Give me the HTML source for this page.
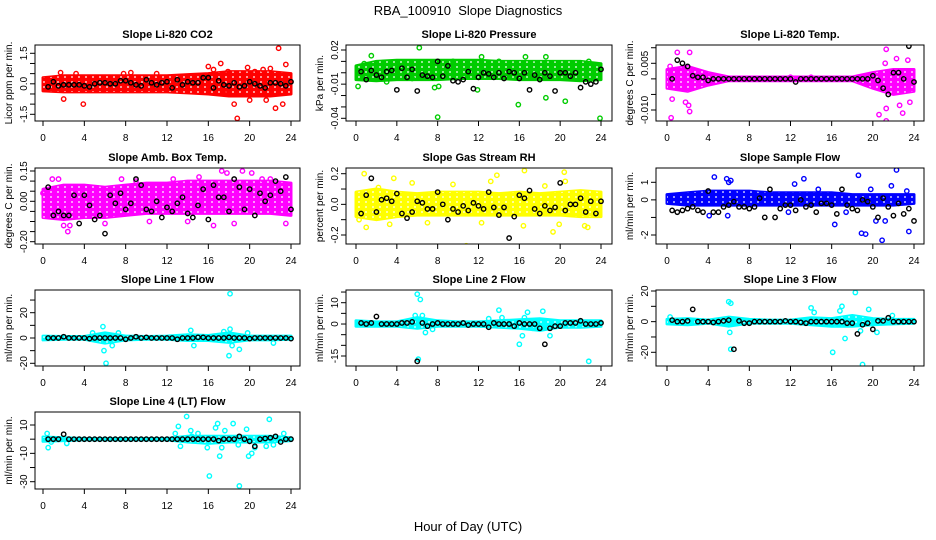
<!DOCTYPE html>
<html><head><meta charset="utf-8">
<style>
html,body{margin:0;padding:0;background:#fff;}
svg{display:block;font-family:"Liberation Sans",sans-serif;}
</style></head>
<body>
<svg id="chart" width="936" height="540" viewBox="0 0 936 540">
<defs>
<pattern id="speck" width="7" height="5" patternUnits="userSpaceOnUse">
<circle cx="2" cy="2" r="0.9" fill="#fff"/>
</pattern>
</defs>
<text x="468" y="15" text-anchor="middle" font-size="13">RBA_100910&#160; Slope Diagnostics</text>
<text x="468" y="531" text-anchor="middle" font-size="13">Hour of Day (UTC)</text>
</svg>
<script>
const bandH=[0,2,4,6,8,10,12,14,16,18,20,22,24];
const bkH=[0.5,1,1.5,2,2.5,3,3.5,4,4.5,5,5.5,6,6.5,7,7.5,8,8.5,9,9.5,10,10.5,11,11.5,12,12.5,13,13.5,14,14.5,15,15.5,16,16.5,17,17.5,18,18.5,19,19.5,20,20.5,21,21.5,22,22.5,23,23.5,24];
const xTicks=[0,4,8,12,16,20,24];

// Panel 1: CO2
const co2Lo=[-0.35,-0.4,-0.4,-0.4,-0.4,-0.4,-0.4,-0.45,-0.5,-0.6,-0.6,-0.6,-0.5];
const co2Hi=[0.3,0.4,0.4,0.4,0.4,0.4,0.4,0.45,0.5,0.6,0.6,0.6,0.5];
const co2OutX=[1.7,2.0,3.2,3.9,7.8,8.5,11,16,16.5,17.2,17.9,18.5,18.8,19.8,20.5,21.3,22,22.5,22.8,23.2,23.5,17.5,20,21.6];
const co2OutY=[0.55,-0.75,0.5,-1.0,0.5,0.55,0.5,0.85,0.7,1.0,0.6,-1.0,-1.7,0.8,0.6,0.7,0.75,-1.2,1.75,-1.0,0.95,-0.4,-0.8,-0.8];
const co2Bk=[-0.15,0.1,-0.1,-0.05,-0.05,-0.05,-0.05,-0.1,-0.15,0,0.05,0.05,0,0,0.15,0.15,0.05,-0.05,-0.1,0.2,0.05,-0.05,0.05,0.1,-0.2,0.2,-0.05,0.1,0.05,0.05,0.3,0.3,-0.2,0.15,-0.05,-0.1,0.05,-0.15,-0.1,0.1,0,-0.1,-0.2,0.05,0.05,0,-0.1,0.1];

// Panel 2: Pressure
const prLo=[-0.006,-0.007,-0.006,-0.006,-0.006,-0.005,-0.005,-0.005,-0.006,-0.006,-0.006,-0.007,-0.006];
const prHi=[0.006,0.01,0.011,0.011,0.011,0.011,0.011,0.01,0.01,0.01,0.01,0.01,0.008];
const prOutX=[1.5,6.2,8,12.3,15.9,18.6,20.5,23.9,0.2,7.7,11.9,16.6,18.6,22.8,8.1,0.8,3,5.5,9.5,14];
const prOutY=[0.015,0.022,-0.039,0.014,-0.028,-0.022,-0.025,-0.04,-0.012,-0.013,-0.015,0.014,0.014,0.01,-0.012,0.008,-0.008,-0.005,0.01,0.01];
const prBk=[0.001,-0.006,0.002,-0.002,-0.004,0.001,0.002,-0.015,0.004,-0.004,0.003,-0.016,-0.002,-0.003,-0.004,0.01,-0.003,0.006,-0.007,-0.008,-0.006,0.001,-0.014,-0.004,0.0,-0.001,-0.004,0.0,-0.005,0.001,0.0,-0.005,0.0,-0.015,-0.002,-0.006,0.0,-0.003,-0.016,0.0,0.0,-0.003,0.0,-0.013,-0.008,-0.01,-0.008,0.003];

// Panel 3: Li-820 Temp
const tpLo=[-0.003,-0.004,-0.002,-0.0006,-0.0006,-0.0006,-0.0006,-0.0006,-0.0006,-0.0006,-0.003,-0.005,-0.004];
const tpHi=[0.003,0.004,0.002,0.0006,0.0006,0.0006,0.0006,0.0006,0.0006,0.0006,0.002,0.003,0.003];
const tpOutX=[0.4,0.5,1.0,2.2,1.8,2.1,2.2,0.3,20.6,21.3,21.3,21.3,21.2,22.3,22.6,23.4,23.6,22.9,12,14];
const tpOutY=[-0.0125,-0.0065,0.0085,0.0085,-0.0075,-0.0085,-0.0105,0.004,-0.0115,-0.0135,-0.0095,0.0095,0.005,0.0065,-0.0085,0.006,-0.0075,-0.011,0.0005,0.0005];
const tpBk=[0,0.006,0.005,0.004,0.001,0.0005,0.0005,-0.0005,0,0,0,0,0,0,0,0,0,0,0,0,0,0,0,0,-0.001,0,0,0,0,0,0,0,0,0,0,0,0,0,0,0.001,-0.0005,-0.003,-0.005,0.002,0.002,0,0.0105,-0.001];

// Panel 4: Amb Box Temp
const abLo=[-0.08,-0.09,-0.08,-0.08,-0.07,-0.06,-0.06,-0.06,-0.06,-0.06,-0.06,-0.06,-0.07];
const abHi=[0.06,0.08,0.08,0.07,0.08,0.09,0.09,0.1,0.1,0.1,0.1,0.1,0.09];
const abOutX=[1.5,0.9,2,2.4,2.6,6,7.6,10.3,14,16.5,17.3,18.5,19.3,20.2,21.2,23.5,23.2,12.6,15.1,0.0,22,17.8,9];
const abOutY=[0.11,0.11,-0.12,-0.15,-0.12,-0.11,0.11,-0.1,-0.1,-0.12,0.15,-0.11,0.15,0.14,0.11,-0.11,-0.24,0.11,0.12,0.04,0.11,0.14,0.1];
const abBk=[0.07,-0.07,-0.05,-0.07,-0.07,0.03,-0.11,0.03,-0.02,-0.09,-0.07,-0.16,0.03,-0.01,0.04,-0.04,-0.01,0.11,0.08,-0.04,-0.05,0.0,-0.08,-0.03,-0.05,-0.01,0.02,-0.06,-0.08,-0.02,0.06,-0.09,0.08,0.02,0.02,-0.05,0.11,0.07,-0.04,0.06,-0.07,0.04,0.0,0.03,0.1,0.05,0.12,-0.04];

// Panel 5: Gas Stream RH
const rhLo=[-0.08,-0.1,-0.08,-0.07,-0.07,-0.07,-0.07,-0.07,-0.07,-0.07,-0.07,-0.08,-0.08];
const rhHi=[0.08,0.1,0.08,0.07,0.08,0.08,0.08,0.07,0.08,0.07,0.08,0.09,0.08];
const rhOutX=[0.8,1,3.7,3.3,5.5,9.5,10.8,7,13.2,13.8,16.5,16.4,19.3,19.9,20.4,20.5,22.7,22.4,18.5,12.3,2.2,0.3];
const rhOutY=[0.2,-0.15,0.17,-0.13,0.14,0.13,-0.27,-0.12,0.15,0.19,0.22,-0.14,-0.18,-0.13,0.21,0.15,-0.15,-0.14,0.12,-0.12,0.11,-0.1];
const rhBk=[-0.06,0.06,0.17,-0.05,0.03,0.04,0.02,0.07,-0.06,-0.09,-0.05,0.02,0.01,-0.03,-0.03,0.08,0.0,-0.1,-0.03,-0.05,-0.01,-0.04,0.01,-0.01,-0.03,0.08,-0.02,-0.07,-0.02,-0.22,-0.08,0.06,0.04,0.09,-0.03,-0.06,-0.01,-0.04,-0.02,0.14,-0.04,0.0,0.0,0.04,-0.05,0.02,-0.06,0.02];

// Panel 6: Sample Flow
const sfLo=[-0.2,-0.3,-0.3,-0.3,-0.3,-0.3,-0.3,-0.3,-0.3,-0.3,-0.3,-0.3,-0.2];
const sfHi=[0.3,0.4,0.5,0.5,0.5,0.4,0.4,0.4,0.4,0.3,0.3,0.3,0.3];
const sfOutX=[4.6,5.8,6,6.2,6.5,5.9,4.1,11.8,12.4,13.3,16.3,18.6,19.8,20.3,20.9,21.2,21.8,22.3,18.9,19.3,23.5,23.3,17.4,14.7];
const sfOutY=[1.3,1.2,1.0,1.1,0.4,-0.9,-0.9,-0.7,0.9,1.2,-1.4,1.4,0.6,-1.2,-2.3,-1.2,0.8,1.7,-1.9,-1.95,-1.8,0.5,-0.7,0.6];
const sfBk=[-0.6,-0.7,-0.6,-0.5,-0.4,-0.6,-0.7,0.5,-0.7,-0.7,-0.4,-0.3,-0.1,-0.4,-0.4,-0.5,-0.4,0.1,-1.0,0.6,-1.0,-0.5,-0.3,-0.3,-0.6,0.0,-0.4,-0.3,-0.7,-0.2,-0.2,-0.3,-0.8,0.6,-0.3,-0.5,-0.6,0.0,-0.1,-0.4,-1.0,0.1,-0.4,-0.9,-0.2,-0.8,-0.5,-1.2];

// Panel 7: Line 1
const l1Lo=[-1.5,-1,-1,-4,-1.5,-1,-1,-2,-2,-3.5,-1.5,-1.5,-1];
const l1Hi=[1.5,1.2,1.2,4,1.5,1.2,1.5,2.5,2,4,1.5,1.5,1.5];
const l1OutX=[5.8,5.9,6.1,6.7,14.3,14.6,18.1,18,18.3,19,18.1,19.8,22.3,4.8,7.3,17.5];
const l1OutY=[9,-10,-20,-6,6,-6,35,-14,-6,-9,7,4,-4,4,4,5];
const l1Bk=[0,0,0,1,0,0,0,0,-0.5,0,0,0,0,0,0,-1,0,1,0,0.5,0,0,0,0,0,-1,0,0,0,0.5,0.5,0,0,0,0,0.5,0,0,0,-0.5,0,0,0,0,0,0,0,-0.5];

// Panel 8: Line 2
const l2Lo=[-1,-1,-1,-2,-1,-1,-1,-1.5,-2,-3,-1.5,-1.5,-1];
const l2Hi=[1.5,1,1,3,1.5,1,1,1.5,2,2.5,1.5,1.5,1.5];
const l2OutX=[6,6.3,6.1,6.5,6.8,14,14.3,16,16.3,16.8,16.5,18.3,19,22.8,5.8,7.5,13,17.3];
const l2OutY=[14,11.5,-16.5,4,-4,6.5,3,-9.5,-5.5,5.5,3,6,-5.5,-17.5,4,-2.5,2.5,-2];
const l2Bk=[0.5,0,0.5,3.5,0,0,0,0,0.5,0.5,1,-17.5,0.5,-1,0,0.5,0,0,0,0,0.5,-0.5,0,0,0,-1.5,0.5,0,0,0,-1,0.5,0,0,0,-2,-9.5,-2,-1,-1,0.5,0.5,0.5,1.5,0,0,0,0.5];

// Panel 9: Line 3
const l3Lo=[-1.5,-2,-1,-3,-1,-1,-1,-2,-3,-3,-2,-1.5,-1];
const l3Hi=[1.5,2,1,3,1.5,1,1,2.5,2,4,2,1.5,1.5];
const l3OutX=[6,6.2,6.1,6.2,14,14.3,16.1,16.8,17,17.3,18.3,18.8,19,19.6,20.4,21.9,0.3];
const l3OutY=[13,12,-7,-18,9,6,-20,7,10,-11,19,-6,-28,8,-7,4,3];
const l3Bk=[1,0,0,0.5,8,0,0,0,-0.5,0,0.5,1,-18,0.5,-1,-1,0,0,0,0,0,0,0.5,0,0,-0.5,-1,0,0,0,0,0,0,0,-1,-1,-8,-2,-1,-5,0.5,0.5,2.5,0,0,0,0,0];

// Panel 10: Line 4
const l4Lo=[-1.5,-1,-0.5,-0.5,-0.5,-0.5,-0.5,-2,-3,-2,-2,-2,-1];
const l4Hi=[1.5,1,0.5,0.5,0.5,0.5,0.5,2,2,2,2,2,1];
const l4OutX=[0.4,0.5,0.8,2.3,13.1,12.8,13.3,13.9,14.3,14.4,15,15.9,16.1,16.7,16.9,17.1,17.3,17.6,18.4,18.9,19,19.7,19.9,20.2,20.5,21.6,21.9,22.3,23.3];
const l4OutY=[4,-6,-2,-3,9,4,-5,16,6,2,4,-6,-26,8,11,-12,-6,6,11,-4,-33,7,-12,-10,-6,-5,14,-4,4];
const l4Bk=[0,0,0,3.5,0,0,0,0,0,0,0,0,0,0,0,0,0,0,0,0,0,0,0,0,0,0,0,0,0,0,0,0,0,-1,0,0,0,2,0,-1.5,-5,0,0.5,1,2,-2,0,0];

const cols=[{L:35,R:300,x0:43,x24:291},{L:346,R:612,x0:356,x24:601},{L:656,R:924,x0:667,x24:914}];
const rows=[{T:45,B:121},{T:168,B:244},{T:290,B:366},{T:412,B:489}];
const NS='http://www.w3.org/2000/svg';
const svg=document.getElementById('chart');
function mk(tag,attrs,parent){const e=document.createElementNS(NS,tag);for(const k in attrs)e.setAttribute(k,attrs[k]);(parent||svg).appendChild(e);return e;}

const panels=[
 {r:0,c:0,title:'Slope Li-820 CO2',ylab:'Licor ppm per min.',col:'#ff0000',v1:1.5,p1:53.3,v2:-1.5,p2:114.3,ticks:[1.5,1,0.5,0,-0.5,-1,-1.5],labs:[[1.5,'1.5'],[0,'0.0'],[-1.5,'-1.5']],lo:co2Lo,hi:co2Hi,ox:co2OutX,oy:co2OutY,bk:co2Bk},
 {r:0,c:1,title:'Slope Li-820 Pressure',ylab:'kPa per min.',col:'#00cc00',v1:0.02,p1:50,v2:-0.04,p2:118.3,ticks:[0.02,0.01,0,-0.01,-0.02,-0.03,-0.04],labs:[[0.02,'0.02'],[-0.01,'-0.01'],[-0.04,'-0.04']],lo:prLo,hi:prHi,ox:prOutX,oy:prOutY,bk:prBk},
 {r:0,c:2,title:'Slope Li-820 Temp.',ylab:'degrees C per min.',col:'#ff00ff',v1:0.005,p1:63.3,v2:-0.01,p2:110,ticks:[0.01,0.005,0,-0.005,-0.01],labs:[[0.005,'0.005'],[-0.01,'-0.010']],lo:tpLo,hi:tpHi,ox:tpOutX,oy:tpOutY,bk:tpBk},
 {r:1,c:0,title:'Slope Amb. Box Temp.',ylab:'degrees C per min.',col:'#ff00ff',v1:0.15,p1:171,v2:-0.2,p2:241.7,ticks:[0.15,0.1,0.05,0,-0.05,-0.1,-0.15,-0.2],labs:[[0.15,'0.15'],[0,'0.00'],[-0.2,'-0.20']],lo:abLo,hi:abHi,ox:abOutX,oy:abOutY,bk:abBk},
 {r:1,c:1,title:'Slope Gas Stream RH',ylab:'percent per min.',col:'#ffff00',v1:0.2,p1:173.7,v2:-0.2,p2:235,ticks:[0.2,0.1,0,-0.1,-0.2],labs:[[0.2,'0.2'],[0,'0.0'],[-0.2,'-0.2']],lo:rhLo,hi:rhHi,ox:rhOutX,oy:rhOutY,bk:rhBk},
 {r:1,c:2,title:'Slope Sample Flow',ylab:'ml/min per min.',col:'#0000ff',v1:1,p1:182.3,v2:-2,p2:235,ticks:[1,0,-1,-2],labs:[[1,'1'],[0,'0'],[-2,'-2']],lo:sfLo,hi:sfHi,ox:sfOutX,oy:sfOutY,bk:sfBk},
 {r:2,c:0,title:'Slope Line 1 Flow',ylab:'ml/min per min.',col:'#00ffff',v1:20,p1:312.7,v2:-20,p2:363.3,ticks:[30,20,10,0,-10,-20],labs:[[20,'20'],[0,'0'],[-20,'-20']],lo:l1Lo,hi:l1Hi,ox:l1OutX,oy:l1OutY,bk:l1Bk},
 {r:2,c:1,title:'Slope Line 2 Flow',ylab:'ml/min per min.',col:'#00ffff',v1:10,p1:302.7,v2:-15,p2:356,ticks:[15,10,5,0,-5,-10,-15],labs:[[10,'10'],[0,'0'],[-15,'-15']],lo:l2Lo,hi:l2Hi,ox:l2OutX,oy:l2OutY,bk:l2Bk},
 {r:2,c:2,title:'Slope Line 3 Flow',ylab:'ml/min per min.',col:'#00ffff',v1:20,p1:291,v2:-20,p2:352.3,ticks:[20,10,0,-10,-20],labs:[[20,'20'],[0,'0'],[-20,'-20']],lo:l3Lo,hi:l3Hi,ox:l3OutX,oy:l3OutY,bk:l3Bk},
 {r:3,c:0,title:'Slope Line 4 (LT) Flow',ylab:'ml/min per min.',col:'#00ffff',v1:10,p1:425,v2:-30,p2:481.7,ticks:[10,0,-10,-20,-30],labs:[[10,'10'],[-10,'-10'],[-30,'-30']],lo:l4Lo,hi:l4Hi,ox:l4OutX,oy:l4OutY,bk:l4Bk}
];

panels.forEach((p,i)=>{
 const C=cols[p.c],R=rows[p.r];
 const xs=h=>C.x0+(C.x24-C.x0)*h/24;
 const ys=v=>p.p1+(p.p2-p.p1)*(v-p.v1)/(p.v2-p.v1);
 const g=mk('g',{});
 
 
 const cp=mk('clipPath',{id:'clip'+i},g);
 mk('rect',{x:C.L,y:R.T,width:C.R-C.L,height:R.B-R.T},cp);
 const t=mk('text',{x:(C.L+C.R)/2,y:R.T-7,'text-anchor':'middle','font-size':'11','font-weight':'bold'},g);
 t.textContent=p.title;
 
 
 const yl=mk('text',{x:0,y:0,transform:`translate(${C.L-23},${(R.T+R.B)/2}) rotate(-90)`,'text-anchor':'middle','font-size':'10'},g);
 yl.textContent=p.ylab;
 
 
 const data=mk('g',{'clip-path':`url(#clip${i})`},g);
 
 
 let d='';
 bandH.forEach((h,k)=>{d+=(k?'L':'M')+xs(h).toFixed(1)+','+ys(p.hi[k]).toFixed(1);});
 for(let k=bandH.length-1;k>=0;k--)d+='L'+xs(bandH[k]).toFixed(1)+','+ys(p.lo[k]).toFixed(1);
 d+='Z';
 const band=mk('path',{d:d,fill:p.col,stroke:p.col,'stroke-width':'3','stroke-linejoin':'round'},data);
 
 
 const sp=mk('path',{d:d,fill:'url(#speck)',stroke:'none'},data);
 
 
 p.ox.forEach((h,k)=>{
  const c=mk('circle',{cx:xs(h),cy:ys(p.oy[k]),r:2.2,fill:'none',stroke:p.col,'stroke-width':'1.4'},data);
  
  
 });
 const n=Math.min(bkH.length,p.bk.length);
 for(let k=0;k<n;k++){
  const c=mk('circle',{cx:xs(bkH[k]),cy:ys(p.bk[k]),r:2.2,fill:'none',stroke:'#000','stroke-width':'1.4'},data);
  
  
 }
 const box=mk('rect',{x:C.L,y:R.T,width:C.R-C.L,height:R.B-R.T,fill:'none',stroke:'#000','stroke-width':'1'},g);
 
 
 xTicks.forEach(h=>{
  mk('line',{x1:xs(h),x2:xs(h),y1:R.B,y2:R.B+5,stroke:'#000'},g);
  const tl=mk('text',{x:xs(h),y:R.B+20,'text-anchor':'middle','font-size':'10'},g);
  tl.textContent=h;
  
  
 });
 p.ticks.forEach(v=>{const y=ys(v);if(y>=R.T-1&&y<=R.B+1)mk('line',{x1:C.L-5,x2:C.L,y1:y,y2:y,stroke:'#000'},g);});
 p.labs.forEach(([v,s])=>{
  const tl=mk('text',{x:0,y:0,transform:`translate(${C.L-8},${ys(v)}) rotate(-90)`,'text-anchor':'middle','font-size':'10'},g);
  tl.textContent=s;
  
  
 });
});
</script>
</body></html>
